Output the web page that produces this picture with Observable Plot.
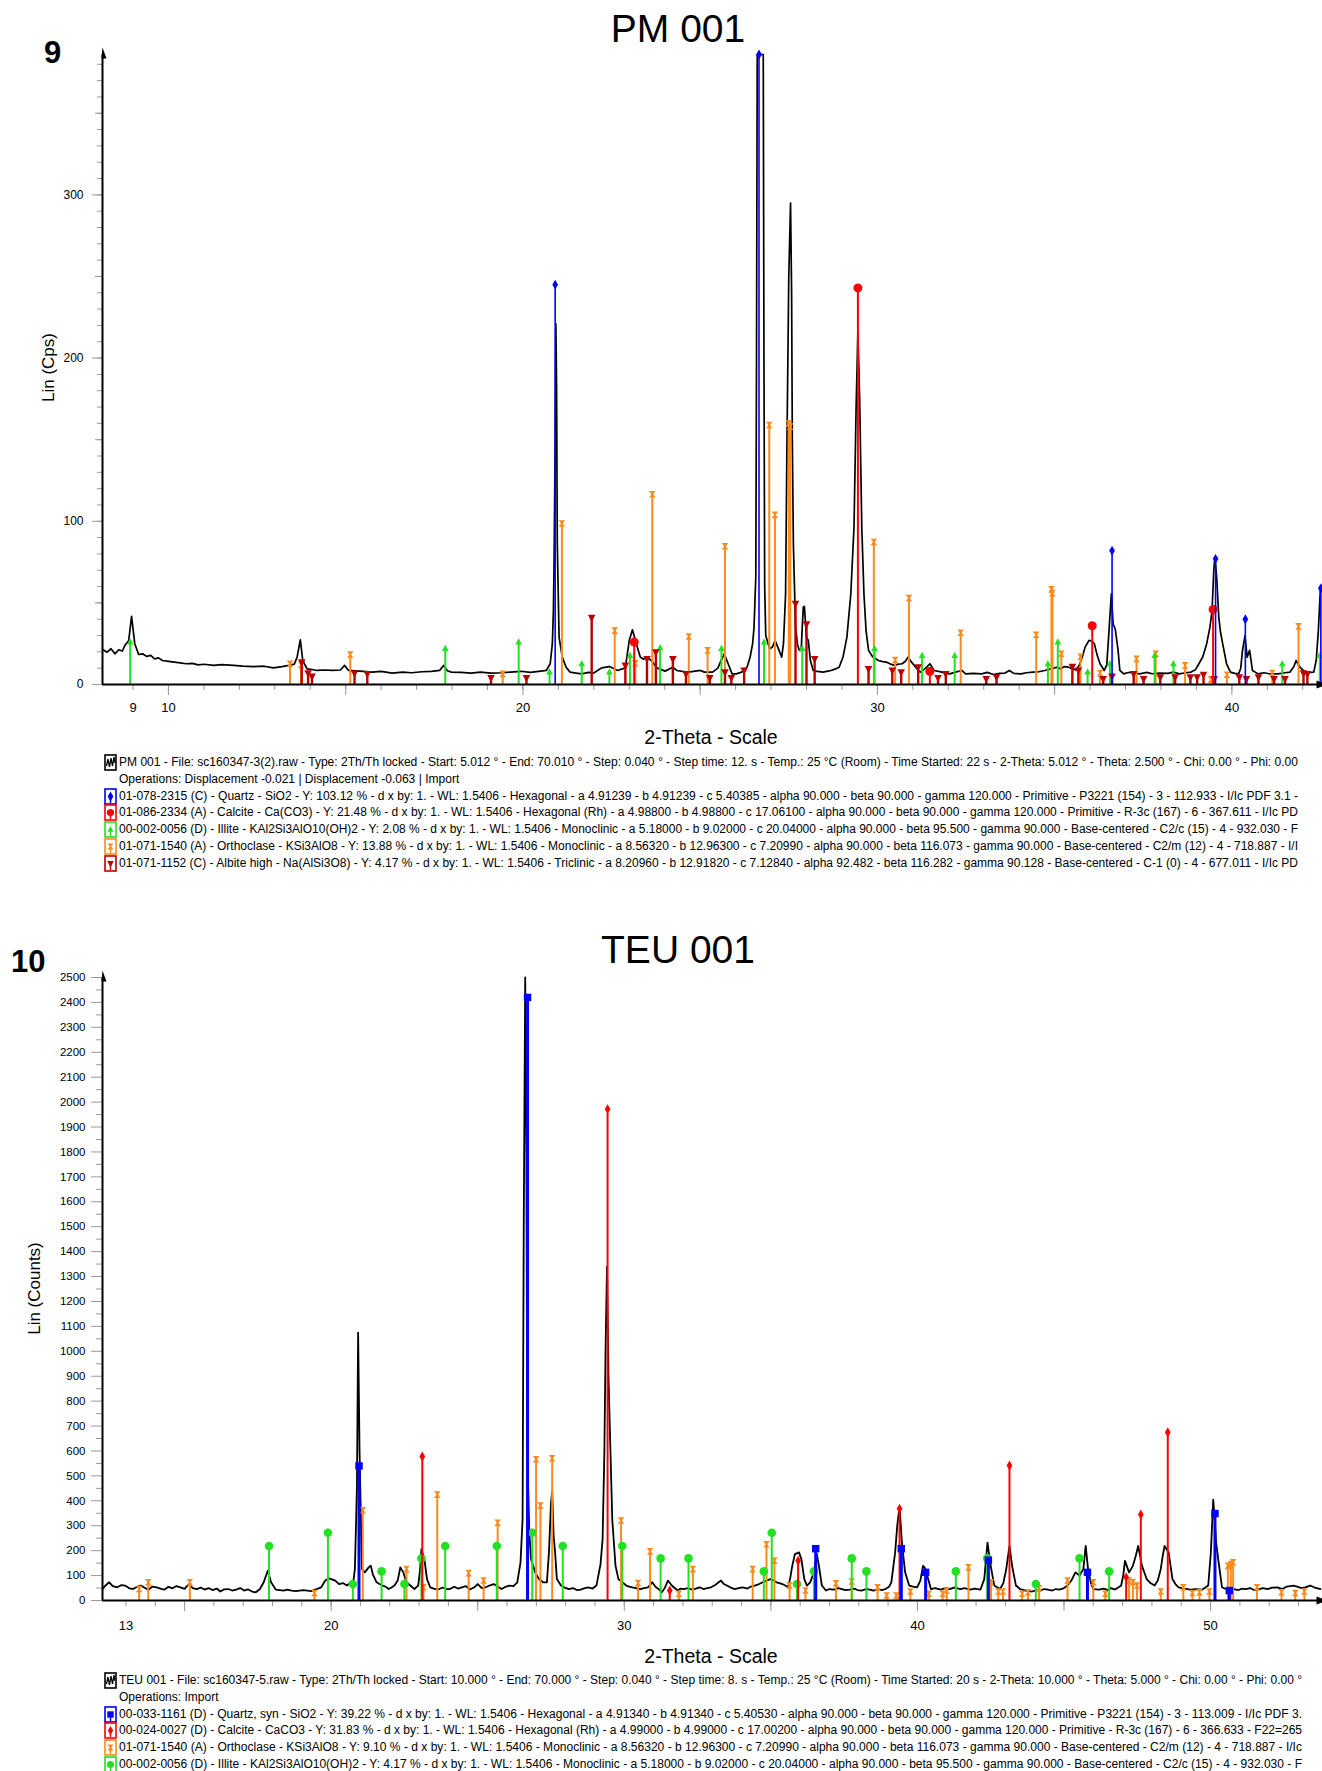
<!DOCTYPE html>
<html><head><meta charset="utf-8">
<script src="https://cdn.jsdelivr.net/npm/d3@7"></script>
<script src="https://cdn.jsdelivr.net/npm/@observablehq/plot@0.6"></script>
<style>
body{margin:0;width:1322px;height:1771px;background:#fff;position:relative;overflow:hidden;font-family:"Liberation Sans",Arial,sans-serif;color:#000}
.abs{position:absolute;white-space:nowrap}
.title{font-size:39px;line-height:39px;width:600px;text-align:center}
.num{font-size:31px;line-height:31px;font-weight:bold}
.xlab{font-size:19.5px;line-height:19.5px;width:400px;text-align:center}
.ylab{font-size:17px;line-height:17px;width:200px;text-align:center;transform:rotate(-90deg);transform-origin:50% 50%}
.row{position:absolute;left:0;height:16.8px;white-space:nowrap}
.row svg{position:absolute;left:0;top:0}
.row span{position:absolute;left:15px;top:0;font-size:12.5px;line-height:16.8px;transform-origin:0 50%;font-family:"Liberation Sans Narrow","Arial Narrow","Liberation Sans",Arial,sans-serif}
</style>
</head><body>
<script>
// ---------------- DATA ----------------
// PM 001 diffractogram: [2-theta, Lin (Cps)]
const pmPattern = [[8.14,21.5],[8.27,19.8],[8.38,21.9],[8.49,18.8],[8.60,21.3],[8.70,20.5],[8.77,23.9],[8.88,27],[8.96,41.7],[9.05,25],[9.16,18.4],[9.27,18.8],[9.39,17.2],[9.50,17.8],[9.61,15.7],[9.72,16.3],[9.83,14.7],[10.0,14.2],[10.17,13.7],[10.33,13.2],[10.50,12.7],[10.67,12.9],[10.84,12],[11.0,12.4],[11.28,11.7],[11.5,12.2],[11.84,11.7],[12.1,11.3],[12.40,11],[12.7,11.2],[12.96,10.2],[13.2,10.9],[13.40,11.7],[13.55,12.5],[13.63,16.8],[13.72,27.4],[13.79,14.7],[13.91,9.6],[14.05,9.2],[14.19,8.6],[14.4,8.9],[14.63,8.6],[14.85,8.9],[14.97,11.7],[15.08,8.6],[15.4,8.2],[15.75,7.6],[16.0,8.0],[16.31,7.0],[16.6,7.6],[16.86,7.2],[17.15,7.8],[17.42,8.0],[17.65,8.6],[17.76,11.7],[17.87,8.4],[17.98,7.6],[18.25,7.4],[18.54,7.0],[18.8,7.6],[19.10,7.0],[19.4,7.2],[19.65,7.6],[19.95,8.1],[20.21,7.4],[20.45,8.0],[20.66,8.6],[20.77,12.7],[20.83,25],[20.86,45],[20.88,76],[20.91,150],[20.93,221],[20.95,180],[20.97,86],[21.02,29],[21.11,16.8],[21.22,10.6],[21.33,7.6],[21.5,7.0],[21.66,6.5],[21.85,7.4],[22.00,7.0],[22.22,10.2],[22.44,11],[22.67,8.6],[22.89,10.2],[23.00,27],[23.09,33.5],[23.20,25],[23.31,16.8],[23.40,15.5],[23.50,16.8],[23.62,14.7],[23.78,10.2],[24.01,8.2],[24.23,10.6],[24.34,8.6],[24.5,8.0],[24.68,7.6],[24.85,8.2],[25.01,8.6],[25.12,7.6],[25.35,7.6],[25.50,10.0],[25.57,13.7],[25.68,18.8],[25.79,12.7],[25.90,6.5],[26.02,6.5],[26.15,7.4],[26.24,8.6],[26.33,11],[26.41,16.8],[26.48,25],[26.52,35],[26.57,66],[26.59,200],[26.61,386],[26.70,386],[26.78,386],[26.80,200],[26.82,60],[26.85,30],[26.96,21.9],[27.04,23],[27.11,27],[27.19,22.9],[27.30,16.8],[27.35,25],[27.41,55.6],[27.45,150],[27.50,250],[27.55,295],[27.58,240],[27.60,150],[27.63,86],[27.69,35],[27.75,24],[27.80,20.9],[27.85,20.9],[27.88,35],[27.91,47.4],[27.94,47.9],[28.0,29],[28.05,27],[28.11,14.7],[28.19,8.6],[28.30,8.0],[28.47,7.6],[28.6,8.2],[28.69,8.6],[28.80,9.4],[28.92,10.6],[29.03,16.8],[29.14,29],[29.25,55.6],[29.34,96.5],[29.40,170],[29.45,216],[29.50,175],[29.56,96],[29.62,55.6],[29.68,33],[29.75,20.9],[29.87,16.8],[30.03,14.7],[30.15,14.0],[30.26,13.7],[30.37,12.5],[30.48,11.7],[30.60,12.5],[30.70,12.7],[30.80,14.5],[30.87,16.8],[30.95,14],[31.04,11.7],[31.12,9.5],[31.21,7.6],[31.30,9.0],[31.37,10.2],[31.48,12.7],[31.60,8.6],[31.82,7.6],[32.04,6.5],[32.2,7.6],[32.38,8.6],[32.49,6.5],[32.7,6.8],[32.94,6.5],[33.1,7.4],[33.27,6.1],[33.45,6.8],[33.60,7.0],[33.72,8.6],[33.85,6.8],[34.05,6.5],[34.2,7.2],[34.39,7.6],[34.55,7.8],[34.72,8.6],[34.9,9.6],[35.06,10.6],[35.17,9.6],[35.28,11],[35.39,10.6],[35.50,9.6],[35.61,9.0],[35.70,12],[35.78,16.8],[35.86,22.9],[35.97,27],[36.05,26.5],[36.12,25],[36.2,18],[36.28,12.7],[36.40,8.6],[36.47,12],[36.51,25],[36.56,42],[36.60,55.6],[36.65,37],[36.71,34],[36.79,20.9],[36.84,8.6],[36.95,6.5],[37.05,7.2],[37.17,7.6],[37.28,6.8],[37.40,6.5],[37.6,7.4],[37.75,6.6],[37.96,7.0],[38.2,6.8],[38.35,7.6],[38.52,6.5],[38.7,7.2],[38.85,7.6],[38.97,9],[39.07,12.7],[39.18,17],[39.29,25],[39.38,35],[39.44,45],[39.49,70],[39.52,78],[39.57,66],[39.63,41.3],[39.68,32],[39.74,25],[39.85,12.7],[39.96,7.6],[40.08,6.8],[40.19,6.5],[40.25,10],[40.30,20.9],[40.37,30],[40.43,16.8],[40.50,20.9],[40.58,8.6],[40.74,6.5],[40.9,7.2],[41.05,6.6],[41.30,6.5],[41.5,7.2],[41.64,7.6],[41.75,11],[41.81,14.7],[41.92,10.6],[42.09,7.0],[42.2,7.4],[42.31,7.6],[42.38,15],[42.44,33],[42.50,60]];

// PM 001 reference patterns: [2-theta, height]
const pmQuartz = [[20.91,245],[26.66,386],[36.62,82],[39.54,77],[40.38,40],[42.51,59]];
const pmCalcite = [[23.14,26],[29.45,243],[31.48,8],[36.06,36],[39.47,46]];
const pmIllite = [[8.92,26],[17.81,22],[19.88,26],[20.75,7.6],[21.66,12.7],[22.44,7.6],[23.02,17.8],[23.87,22.5],[25.6,22],[26.8,26],[27.88,22],[29.92,22],[31.26,17.8],[32.18,17.8],[34.81,12.7],[35.09,26],[35.93,7.6],[36.56,12.7],[37.82,17.8],[38.35,12.7],[41.42,12.7],[42.48,17.8]];
const pmOrthoclase = [[13.43,12.7],[13.74,12],[15.13,18.4],[19.43,6.5],[21.1,98.6],[22.59,33],[23.17,13],[23.65,116.6],[24.68,29.4],[25.21,20.9],[25.7,84.7],[26.95,159],[27.11,104],[27.50,160],[27.54,158],[29.9,87.3],[30.5,15],[30.89,53],[32.35,31.7],[34.48,30.5],[34.91,58.3],[34.94,56],[35.19,18.8],[35.73,17],[36.28,7],[37.31,15.7],[37.85,18.8],[38.68,11.7],[39.41,3],[39.86,6],[41.14,7],[41.88,35.6]];
const pmAlbite = [[13.76,13.7],[13.94,7],[14.05,5],[15.25,7],[15.61,6.5],[19.1,4],[20.1,4],[21.94,41],[22.89,11.7],[23.5,15.7],[23.75,19.8],[24.23,15.7],[24.6,6.5],[25.27,4],[25.7,7.6],[25.88,4],[26.24,8.6],[27.69,49.5],[28.0,37],[28.23,15.7],[29.75,9.6],[30.42,8.6],[30.67,7.6],[31.15,10.6],[31.71,4],[31.93,6.5],[33.07,3.5],[33.36,4.5],[35.5,11],[35.67,8.6],[36.37,3.5],[36.62,5],[37.23,6.5],[37.51,3.5],[37.98,4.5],[38.4,4.5],[38.83,4.5],[39.02,4.5],[39.2,6],[39.5,3.5],[40.21,4.5],[40.41,3.5],[40.75,4.5],[41.19,3.5],[41.5,3.5],[42.02,7],[42.13,6.5]];

// TEU 001 diffractogram: [2-theta, Lin (Counts)]
const teuPattern = [[12.2,46],[12.3,60],[12.43,73],[12.55,58],[12.70,53],[12.85,62],[12.97,60],[13.1,50],[13.24,46],[13.38,55],[13.51,60],[13.65,50],[13.78,44],[13.9,56],[14.05,53],[14.2,47],[14.32,44],[14.45,55],[14.59,49],[14.72,58],[14.86,53],[15.0,47],[15.14,66],[15.28,50],[15.41,46],[15.55,52],[15.68,44],[15.82,50],[15.95,42],[16.1,48],[16.22,36],[16.35,45],[16.49,46],[16.62,40],[16.76,44],[16.9,50],[17.03,40],[17.16,45],[17.30,36],[17.43,33],[17.57,46],[17.70,73],[17.84,120],[17.95,73],[18.11,44],[18.25,42],[18.38,40],[18.5,44],[18.65,40],[18.8,38],[18.92,40],[19.05,42],[19.19,40],[19.32,38],[19.46,44],[19.66,53],[19.80,80],[19.93,89],[20.05,84],[20.14,80],[20.27,66],[20.40,70],[20.54,60],[20.68,73],[20.74,60],[20.81,126],[20.88,458],[20.92,1075],[20.97,591],[21.05,126],[21.15,113],[21.28,133],[21.35,140],[21.42,106],[21.55,73],[21.65,66],[21.76,60],[21.86,55],[21.96,46],[22.06,52],[22.16,60],[22.27,80],[22.36,133],[22.46,113],[22.57,73],[22.70,60],[22.84,46],[22.97,60],[23.03,120],[23.08,206],[23.18,166],[23.27,86],[23.38,53],[23.5,48],[23.65,44],[23.8,52],[23.92,46],[24.05,46],[24.2,55],[24.33,48],[24.46,53],[24.6,58],[24.73,44],[24.87,52],[25.00,66],[25.14,50],[25.27,53],[25.40,60],[25.54,66],[25.68,56],[25.81,46],[25.95,55],[26.08,60],[26.22,58],[26.35,73],[26.46,153],[26.53,325],[26.57,1500],[26.62,2500],[26.66,1800],[26.69,591],[26.76,272],[26.82,166],[26.96,113],[27.09,86],[27.23,73],[27.36,73],[27.43,193],[27.50,392],[27.54,438],[27.59,259],[27.64,193],[27.70,86],[27.84,60],[27.97,52],[28.11,46],[28.25,50],[28.38,42],[28.51,44],[28.65,50],[28.78,53],[28.92,48],[29.05,60],[29.19,146],[29.26,246],[29.32,591],[29.36,1000],[29.41,1340],[29.46,900],[29.53,591],[29.59,325],[29.70,140],[29.80,86],[29.93,73],[30.07,60],[30.17,56],[30.27,53],[30.4,50],[30.54,46],[30.68,50],[30.81,53],[30.95,73],[31.08,53],[31.18,45],[31.28,33],[31.38,50],[31.49,80],[31.62,60],[31.72,50],[31.82,40],[31.92,48],[32.03,46],[32.17,50],[32.30,44],[32.44,48],[32.57,53],[32.7,46],[32.83,50],[32.96,53],[33.10,62],[33.30,80],[33.40,66],[33.50,60],[33.63,52],[33.77,46],[33.9,50],[34.04,53],[34.2,48],[34.32,56],[34.45,60],[34.6,66],[34.72,73],[34.85,80],[34.99,86],[35.10,80],[35.19,73],[35.29,70],[35.39,66],[35.49,60],[35.59,53],[35.66,90],[35.73,139],[35.82,186],[35.96,193],[36.04,166],[36.14,86],[36.23,60],[36.34,73],[36.47,113],[36.57,186],[36.64,139],[36.74,60],[36.88,40],[37.0,46],[37.15,44],[37.3,50],[37.42,46],[37.55,42],[37.69,44],[37.85,48],[37.95,42],[38.09,40],[38.25,46],[38.38,44],[38.50,40],[38.65,46],[38.78,42],[38.91,46],[39.03,55],[39.11,73],[39.24,193],[39.31,299],[39.39,378],[39.47,232],[39.58,113],[39.72,60],[39.85,56],[39.99,53],[40.10,80],[40.19,139],[40.26,130],[40.32,106],[40.46,46],[40.6,50],[40.80,44],[40.95,50],[41.1,46],[41.25,52],[41.47,46],[41.6,50],[41.8,44],[41.95,48],[42.15,44],[42.28,86],[42.39,232],[42.50,139],[42.62,60],[42.82,46],[42.93,70],[43.03,126],[43.14,219],[43.23,139],[43.36,60],[43.50,46],[43.7,40],[43.91,36],[44.05,42],[44.2,40],[44.32,46],[44.45,44],[44.6,40],[44.72,46],[44.85,44],[45.0,50],[45.12,60],[45.25,80],[45.39,113],[45.53,100],[45.66,126],[45.74,219],[45.82,126],[45.92,70],[46.00,46],[46.20,44],[46.35,48],[46.5,42],[46.60,50],[46.74,44],[46.85,52],[46.95,60],[47.02,100],[47.08,159],[47.22,113],[47.35,139],[47.45,180],[47.53,219],[47.66,139],[47.82,86],[47.95,70],[48.09,60],[48.20,80],[48.30,126],[48.37,180],[48.43,219],[48.57,193],[48.70,86],[48.80,66],[48.91,53],[49.1,48],[49.31,44],[49.5,46],[49.72,44],[49.92,60],[50.01,193],[50.09,405],[50.14,330],[50.19,232],[50.26,166],[50.39,53],[50.52,46],[50.66,40],[50.8,46],[50.95,42],[51.08,48],[51.20,46],[51.35,50],[51.48,42],[51.61,44],[51.78,50],[51.95,46],[52.1,52],[52.28,53],[52.45,46],[52.6,56],[52.82,60],[52.95,56],[53.1,50],[53.23,53],[53.4,60],[53.55,52],[53.75,46]];

// TEU 001 reference patterns: [2-theta, height]
const teuQuartz = [[20.95,540],[26.70,2420],[36.53,208],[39.45,208],[40.28,113],[42.42,162],[45.80,113],[50.15,349],[50.64,40]];
const teuCalcite = [[23.11,578],[29.43,1972],[31.55,40],[35.93,160],[39.39,368],[43.14,542],[47.12,93],[47.62,345],[48.54,675]];
const teuOrthoclase = [[13.45,46],[13.76,73],[15.18,73],[19.43,30],[21.08,362],[22.57,126],[23.15,53],[23.62,425],[24.69,110],[25.2,80],[25.68,312],[26.99,567],[27.14,381],[27.54,571],[29.89,321],[30.47,70],[30.88,197],[31.86,27],[32.34,126],[34.38,126],[34.85,226],[35.12,160],[35.64,60],[36.18,40],[37.22,69],[37.76,76],[38.64,53],[38.95,20],[39.28,20],[39.76,36],[40.39,27],[40.86,27],[41.0,40],[41.74,133],[42.51,73],[42.76,36],[42.92,36],[43.57,27],[43.77,33],[44.15,49],[45.12,80],[46.0,73],[46.41,27],[47.22,80],[47.35,73],[47.49,60],[48.3,36],[49.07,53],[49.38,30],[49.62,33],[49.96,36],[50.59,139],[50.69,146],[50.77,153],[51.58,53],[52.42,33],[52.89,30],[53.2,36]];
const teuIllite = [[17.88,219],[19.89,272],[20.74,66],[21.72,117],[22.5,66],[23.08,169],[23.89,219],[25.65,219],[26.86,272],[27.9,219],[29.93,219],[31.24,169],[32.19,169],[34.76,117],[35.03,272],[35.89,66],[36.47,117],[37.76,169],[38.26,117],[41.31,117],[42.38,169],[44.04,66],[45.53,169],[46.54,117]];

// axes
const pmXDomain = [8.14, 42.5], pmYDomain = [0, 386];
const pmXTickLabels = [9, 10, 20, 30, 40];
const pmYTickLabels = [0, 100, 200, 300];
const teuXDomain = [12.2, 53.75], teuYDomain = [0, 2500];
const teuXTickLabels = [13, 20, 30, 40, 50];
const teuYTickLabels = d3.range(0, 2501, 100);

// texts
const pmTitle = "PM 001", teuTitle = "TEU 001";
const pmNumber = "9", teuNumber = "10";
const xTitle = "2-Theta - Scale";
const pmYTitle = "Lin (Cps)", teuYTitle = "Lin (Counts)";
const pmLegendText = [
 "PM 001 - File: sc160347-3(2).raw - Type: 2Th/Th locked - Start: 5.012 ° - End: 70.010 ° - Step: 0.040 ° - Step time: 12. s - Temp.: 25 °C (Room) - Time Started: 22 s - 2-Theta: 5.012 ° - Theta: 2.500 ° - Chi: 0.00 ° - Phi: 0.00",
 "Operations: Displacement -0.021 | Displacement -0.063 | Import",
 "01-078-2315 (C) - Quartz - SiO2 - Y: 103.12 % - d x by: 1. - WL: 1.5406 - Hexagonal - a 4.91239 - b 4.91239 - c 5.40385 - alpha 90.000 - beta 90.000 - gamma 120.000 - Primitive - P3221 (154) - 3 - 112.933 - I/Ic PDF 3.1 -",
 "01-086-2334 (A) - Calcite - Ca(CO3) - Y: 21.48 % - d x by: 1. - WL: 1.5406 - Hexagonal (Rh) - a 4.98800 - b 4.98800 - c 17.06100 - alpha 90.000 - beta 90.000 - gamma 120.000 - Primitive - R-3c (167) - 6 - 367.611 - I/Ic PD",
 "00-002-0056 (D) - Illite - KAl2Si3AlO10(OH)2 - Y: 2.08 % - d x by: 1. - WL: 1.5406 - Monoclinic - a 5.18000 - b 9.02000 - c 20.04000 - alpha 90.000 - beta 95.500 - gamma 90.000 - Base-centered - C2/c (15) - 4 - 932.030 - F",
 "01-071-1540 (A) - Orthoclase - KSi3AlO8 - Y: 13.88 % - d x by: 1. - WL: 1.5406 - Monoclinic - a 8.56320 - b 12.96300 - c 7.20990 - alpha 90.000 - beta 116.073 - gamma 90.000 - Base-centered - C2/m (12) - 4 - 718.887 - I/I",
 "01-071-1152 (C) - Albite high - Na(AlSi3O8) - Y: 4.17 % - d x by: 1. - WL: 1.5406 - Triclinic - a 8.20960 - b 12.91820 - c 7.12840 - alpha 92.482 - beta 116.282 - gamma 90.128 - Base-centered - C-1 (0) - 4 - 677.011 - I/Ic PD"
];
const teuLegendText = [
 "TEU 001 - File: sc160347-5.raw - Type: 2Th/Th locked - Start: 10.000 ° - End: 70.000 ° - Step: 0.040 ° - Step time: 8. s - Temp.: 25 °C (Room) - Time Started: 20 s - 2-Theta: 10.000 ° - Theta: 5.000 ° - Chi: 0.00 ° - Phi: 0.00 °",
 "Operations: Import",
 "00-033-1161 (D) - Quartz, syn - SiO2 - Y: 39.22 % - d x by: 1. - WL: 1.5406 - Hexagonal - a 4.91340 - b 4.91340 - c 5.40530 - alpha 90.000 - beta 90.000 - gamma 120.000 - Primitive - P3221 (154) - 3 - 113.009 - I/Ic PDF 3.",
 "00-024-0027 (D) - Calcite - CaCO3 - Y: 31.83 % - d x by: 1. - WL: 1.5406 - Hexagonal (Rh) - a 4.99000 - b 4.99000 - c 17.00200 - alpha 90.000 - beta 90.000 - gamma 120.000 - Primitive - R-3c (167) - 6 - 366.633 - F22=265",
 "01-071-1540 (A) - Orthoclase - KSi3AlO8 - Y: 9.10 % - d x by: 1. - WL: 1.5406 - Monoclinic - a 8.56320 - b 12.96300 - c 7.20990 - alpha 90.000 - beta 116.073 - gamma 90.000 - Base-centered - C2/m (12) - 4 - 718.887 - I/Ic",
 "00-002-0056 (D) - Illite - KAl2Si3AlO10(OH)2 - Y: 4.17 % - d x by: 1. - WL: 1.5406 - Monoclinic - a 5.18000 - b 9.02000 - c 20.04000 - alpha 90.000 - beta 95.500 - gamma 90.000 - Base-centered - C2/c (15) - 4 - 932.030 - F"
];

// ---------------- STYLE / SYMBOLS ----------------
const COL = {quartz:"#0000ff", calcite:"#ff0000", illite:"#22e022", orthoclase:"#ff8a1c", albite:"#b80000"};
function sym(fn){ return {draw(c,size){ fn(c, Math.sqrt(size/Math.PI)); }}; }
const triUp = sym((c,r)=>{c.moveTo(0,-r*1.15);c.lineTo(r,r*0.75);c.lineTo(-r,r*0.75);c.closePath();});
const triDown = sym((c,r)=>{c.moveTo(0,r*1.15);c.lineTo(r,-r*0.75);c.lineTo(-r,-r*0.75);c.closePath();});
const hourglass = sym((c,r)=>{c.moveTo(-r,-r);c.lineTo(r,-r);c.lineTo(r*0.25,0);c.lineTo(r,r);c.lineTo(-r,r);c.lineTo(-r*0.25,0);c.closePath();});
const arrowUp = {draw(c){c.moveTo(0,-7);c.lineTo(4,4);c.lineTo(-1,4);c.closePath();}};
const arrowRight = {draw(c){c.moveTo(7,0);c.lineTo(-4,-4);c.lineTo(-4,4);c.closePath();}};

const FONT = "'Liberation Sans', Arial, sans-serif";
const NARROW = "'Liberation Sans Narrow','Arial Narrow','Liberation Sans',Arial,sans-serif";
const plain = d => String(d);

function phase(data, color, symbol, r, sw){
  return [
    Plot.ruleX(data, {x: d=>d[0], y1: 0, y2: d=>d[1], stroke: color, strokeWidth: sw}),
    Plot.dot(data, {x: d=>d[0], y: d=>d[1], symbol, r, fill: color, stroke: "none"})
  ];
}
function place(el, left, top){ el.style.position="absolute"; el.style.left=left+"px"; el.style.top=top+"px"; document.body.appendChild(el); }
function div(cls, text, left, top){ const d=document.createElement("div"); d.className="abs "+cls; d.textContent=text; d.style.left=left+"px"; d.style.top=top+"px"; document.body.appendChild(d); return d; }

// ---------------- PM 001 ----------------
const pm = Plot.plot({
  width: 1322, height: 710, marginTop: 14, marginBottom: 66, marginLeft: 102, marginRight: 2,
  x: {domain: pmXDomain}, y: {domain: pmYDomain},
  style: {fontFamily: FONT, background: "transparent", overflow: "visible", color: "#000"},
  marks: [
    Plot.axisY({ticks: d3.range(0, 387, 10), tickSize: 5, stroke: "#999", fill: "none", label: null}),
    Plot.axisY({ticks: d3.range(50, 387, 100), tickSize: 7, stroke: "#999", fill: "none", label: null}),
    Plot.axisY({ticks: pmYTickLabels, tickSize: 10, tickPadding: 9, tickFormat: plain, stroke: "#999", fontSize: 12, fontFamily: NARROW, label: null}),
    Plot.axisX({ticks: d3.range(9, 43, 1), tickSize: 6, stroke: "#999", fill: "none", label: null}),
    Plot.axisX({ticks: d3.range(10, 43, 5), tickSize: 11, stroke: "#999", fill: "none", label: null}),
    Plot.axisX({ticks: pmXTickLabels, tickSize: 0, tickPadding: 18, tickFormat: plain, fontSize: 13, fontFamily: NARROW, label: null}),
    Plot.line(pmPattern, {x: d=>d[0], y: d=>d[1], stroke: "#000", strokeWidth: 1.7}),
    ...phase(pmOrthoclase, COL.orthoclase, hourglass, 3.3, 2),
    ...phase(pmIllite, COL.illite, triUp, 3.3, 2),
    ...phase(pmAlbite, COL.albite, triDown, 3.8, 2.4),
    ...phase(pmCalcite, COL.calcite, "circle", 4.5, 2),
    ...phase(pmQuartz, COL.quartz, "diamond", 3, 1.6),
    Plot.ruleX([pmXDomain[0]], {stroke: "#000", strokeWidth: 2}),
    Plot.ruleY([0], {stroke: "#000", strokeWidth: 2}),
    Plot.dot([0], {frameAnchor: "top-left", symbol: arrowUp, fill: "#000", stroke: "none"}),
    Plot.dot([0], {frameAnchor: "bottom-right", symbol: arrowRight, fill: "#000", stroke: "none"})
  ]
});
place(pm, 0, 40);

// ---------------- TEU 001 ----------------
const teu = Plot.plot({
  width: 1322, height: 682, marginTop: 19, marginBottom: 40, marginLeft: 102, marginRight: 2,
  x: {domain: teuXDomain}, y: {domain: teuYDomain},
  style: {fontFamily: FONT, background: "transparent", overflow: "visible", color: "#000"},
  marks: [
    Plot.axisY({ticks: d3.range(50, 2501, 100), tickSize: 6, stroke: "#999", fill: "none", label: null}),
    Plot.axisY({ticks: teuYTickLabels, tickSize: 11, tickPadding: 6, tickFormat: plain, stroke: "#999", fontSize: 11.5, fontFamily: NARROW, label: null}),
    Plot.axisX({ticks: d3.range(13, 54, 1), tickSize: 6, stroke: "#999", fill: "none", label: null}),
    Plot.axisX({ticks: d3.range(15, 54, 5), tickSize: 11, stroke: "#999", fill: "none", label: null}),
    Plot.axisX({ticks: teuXTickLabels, tickSize: 0, tickPadding: 20, tickFormat: plain, fontSize: 13, fontFamily: NARROW, label: null}),
    Plot.line(teuPattern, {x: d=>d[0], y: d=>d[1], stroke: "#000", strokeWidth: 1.8}),
    ...phase(teuOrthoclase, COL.orthoclase, hourglass, 3.3, 2),
    ...phase(teuIllite, COL.illite, "circle", 4.3, 2),
    ...phase(teuCalcite, COL.calcite, "diamond", 3, 2),
    ...phase(teuQuartz, COL.quartz, "square", 4.2, 3),
    Plot.ruleX([teuXDomain[0]], {stroke: "#000", strokeWidth: 2}),
    Plot.ruleY([0], {stroke: "#000", strokeWidth: 2}),
    Plot.dot([0], {frameAnchor: "top-left", symbol: arrowUp, fill: "#000", stroke: "none"}),
    Plot.dot([0], {frameAnchor: "bottom-right", symbol: arrowRight, fill: "#000", stroke: "none"})
  ]
});
place(teu, 0, 958);

// ---------------- TEXT ----------------
div("title", pmTitle, 378, 9);
div("title", teuTitle, 378, 930);
div("num", pmNumber, 44, 37);
div("num", teuNumber, 11, 946);
div("xlab", xTitle, 511, 728);
div("xlab", xTitle, 511, 1647);
div("ylab", pmYTitle, 48-100, 367-8.5);
div("ylab", teuYTitle, 34-100, 1288-8.5);

// ---------------- LEGENDS ----------------
function iconSvg(kind, color, symbol, r){
  const ns="http://www.w3.org/2000/svg";
  const s=document.createElementNS(ns,"svg"); s.setAttribute("width",14); s.setAttribute("height",17);
  const rect=document.createElementNS(ns,"rect");
  rect.setAttribute("x",1); rect.setAttribute("y",1); rect.setAttribute("width",11); rect.setAttribute("height",15);
  rect.setAttribute("fill","#fff"); rect.setAttribute("stroke",color); rect.setAttribute("stroke-width",1.6);
  s.appendChild(rect);
  const p=document.createElementNS(ns,"path");
  if(kind==="scan"){
    p.setAttribute("d","M2.5,12 L4,5 L5.5,13 L7,4 L8.5,12 L10,3 L11,9");
    p.setAttribute("fill","none"); p.setAttribute("stroke","#000"); p.setAttribute("stroke-width",1.3);
  } else {
    const path=d3.path(); const sy = typeof symbol==="string" ? (symbol==="circle"?d3.symbolCircle:symbol==="diamond"?d3.symbolDiamond:d3.symbolSquare) : symbol;
    sy.draw(path, Math.PI*r*r);
    p.setAttribute("d", path.toString()); p.setAttribute("transform","translate(6.5,8.5)");
    p.setAttribute("fill",color);
    const l=document.createElementNS(ns,"line"); l.setAttribute("x1",6.5); l.setAttribute("x2",6.5); l.setAttribute("y1",8.5); l.setAttribute("y2",15); l.setAttribute("stroke",color); l.setAttribute("stroke-width",1.5);
    s.appendChild(l);
  }
  s.appendChild(p);
  return s;
}
function legend(top, texts, icons, rightEdge){
  const box=document.createElement("div"); box.style.position="absolute"; box.style.left="104px"; box.style.top=top+"px"; box.style.width="1218px"; box.style.height=(texts.length*16.8)+"px"; box.style.overflow="hidden";
  document.body.appendChild(box);
  const spans=[];
  texts.forEach((t,i)=>{
    const row=document.createElement("div"); row.className="row"; row.style.top=(i*16.8)+"px"; row.style.width="1218px";
    if(icons[i]) row.appendChild(icons[i]);
    const sp=document.createElement("span"); sp.textContent=t; row.appendChild(sp); box.appendChild(row); spans.push(sp);
  });
  const w0=spans[0].getBoundingClientRect().width;
  const k0=(rightEdge-119)/w0;
  spans.forEach((sp,i)=>{
    let k=k0;
    if(i>=2){ k=(rightEdge-119)/sp.getBoundingClientRect().width; }
    sp.style.transform="scaleX("+k+")";
  });
}
legend(754, pmLegendText, [
  iconSvg("scan","#000"), null,
  iconSvg("p",COL.quartz,"diamond",3), iconSvg("p",COL.calcite,"circle",3.6), iconSvg("p",COL.illite,triUp,3),
  iconSvg("p",COL.orthoclase,hourglass,3), iconSvg("p",COL.albite,triDown,3.3)
], 1298);
legend(1672, teuLegendText, [
  iconSvg("scan","#000"), null,
  iconSvg("p",COL.quartz,"square",3.6), iconSvg("p",COL.calcite,"diamond",2.8),
  iconSvg("p",COL.orthoclase,hourglass,3), iconSvg("p",COL.illite,"circle",3.6)
], 1302);
</script>
</body></html>
